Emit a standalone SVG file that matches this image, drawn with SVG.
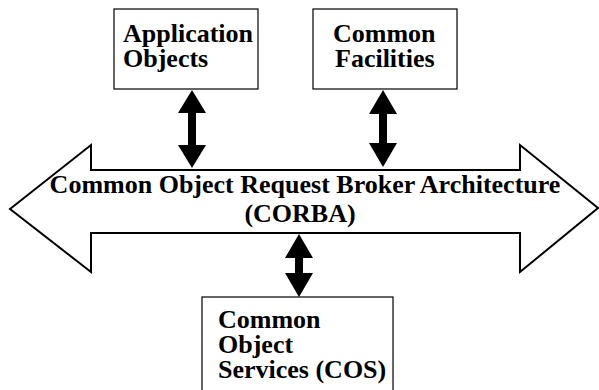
<svg xmlns="http://www.w3.org/2000/svg" width="599" height="390" viewBox="0 0 599 390">
  <style>
    .box { fill: #ffffff; stroke: #000000; stroke-width: 1.2; }
    .label { font-family: "Liberation Serif", "Times New Roman", serif; font-weight: bold; font-size: 26px; fill: #000000; }
    .dbl { fill: #000000; stroke: none; }
    .bus { fill: #ffffff; stroke: #000000; stroke-width: 2; stroke-linejoin: miter; }
  </style>
  <rect width="599" height="390" fill="#ffffff"/>

  <!-- central broker: wide double-headed block arrow -->
  <g id="corba">
    <polygon class="bus" points="10,209 91,145 91,170 520,170 520,145 598,208 520,272 520,233 91,233 91,272"/>
    <text class="label" x="305" y="193" text-anchor="middle">Common Object Request Broker Architecture</text>
    <text class="label" x="300" y="222" text-anchor="middle">(CORBA)</text>
  </g>

  <g id="application-objects">
    <rect class="box" x="114" y="9" width="144" height="80"/>
    <text class="label" x="123" y="42">Application</text>
    <text class="label" x="123" y="67">Objects</text>
  </g>

  <g id="common-facilities">
    <rect class="box" x="313" y="9" width="144" height="80"/>
    <text class="label" x="333" y="42">Common</text>
    <text class="label" x="335" y="67">Facilities</text>
  </g>

  <g id="common-object-services">
    <rect class="box" x="202" y="297" width="191" height="100"/>
    <text class="label" x="218" y="328">Common</text>
    <text class="label" x="218" y="353">Object</text>
    <text class="label" x="218" y="378">Services (COS)</text>
  </g>

  <!-- bidirectional links between the broker and each component -->
  <g id="connectors">
    <polygon class="dbl" points="192,90 206,113 196,113 196,145 206,145 192,168 178,145 188,145 188,113 178,113"/>
    <polygon class="dbl" points="383,90 397,114 387,114 387,143 397,143 383,167 369,143 379,143 379,114 369,114"/>
    <polygon class="dbl" points="299,234 313,258 303,258 303,273 313,273 299,297 285,273 295,273 295,258 285,258"/>
  </g>
</svg>
